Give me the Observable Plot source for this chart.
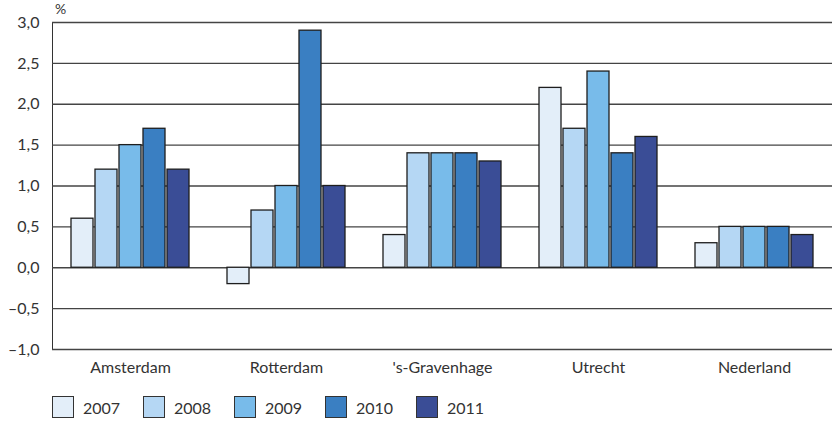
<!DOCTYPE html>
<html>
<head>
<meta charset="utf-8">
<script src="https://cdn.jsdelivr.net/npm/d3@7"></script>
<script src="https://cdn.jsdelivr.net/npm/@observablehq/plot@0.6"></script>
<style>
  html, body { margin: 0; padding: 0; background: #fff; }
  body { width: 832px; height: 423px; position: relative; font-family: Lato, "Open Sans", sans-serif; color: #333; }
  #unit { position: absolute; left: 55px; top: 2px; font-size: 14px; line-height: 14px; color: #333; }
  #legend { display: flex; padding-left: 52px; padding-top: 8px; }
  .item { display: flex; align-items: center; width: 91px; font-size: 16px; }
  .sw { width: 20px; height: 20px; border: 1.5px solid #333; margin-right: 9px; box-sizing: content-box; }
</style>
</head>
<body>
<div id="unit">%</div>
<div id="chart"></div>
<div id="legend"></div>
<script>
const cities = ["Amsterdam", "Rotterdam", "'s-Gravenhage", "Utrecht", "Nederland"];
const years = ["2007", "2008", "2009", "2010", "2011"];
const v2007 = [0.6, -0.2, 0.4, 2.2, 0.3];
const v2008 = [1.2, 0.7, 1.4, 1.7, 0.5];
const v2009 = [1.5, 1.0, 1.4, 2.4, 0.5];
const v2010 = [1.7, 2.9, 1.4, 1.4, 0.5];
const v2011 = [1.2, 1.0, 1.3, 1.6, 0.4];
const colors = ["#e3eef9", "#b5d7f4", "#78bbea", "#3a7fc2", "#3a4d96"];
const yTicks = [-1, -0.5, 0, 0.5, 1, 1.5, 2, 2.5, 3];

const series = [v2007, v2008, v2009, v2010, v2011];
const rows = [];
cities.forEach((c, i) => years.forEach((y, j) => rows.push({city: c, year: y, value: series[j][i]})));

const fmt = d => (d < 0 ? "\u2013" : "") + Math.abs(d).toFixed(1).replace(".", ",");

const chart = Plot.plot({
  width: 832,
  height: 388,
  marginLeft: 51,
  marginRight: 0,
  marginTop: 22,
  marginBottom: 39,
  style: {fontFamily: "Lato, 'Open Sans', sans-serif", fontSize: "16px", color: "#333", background: "#fff"},
  fx: {domain: cities, padding: 0, axis: "bottom", label: null, tickSize: 0, tickPadding: 12},
  x: {domain: years, paddingInner: 0.08, paddingOuter: 0.664, axis: null},
  y: {domain: [-1, 3], ticks: yTicks, tickFormat: fmt, tickSize: 0, tickPadding: 13, label: null, line: true},
  color: {domain: years, range: colors},
  marks: [
    Plot.ruleY(yTicks, {stroke: "#444", strokeWidth: 1.3}),
    Plot.barY(rows, {fx: "city", x: "year", y: "value", fill: "year", stroke: "#1e1e1e", strokeWidth: 1.3})
  ]
});
document.getElementById("chart").appendChild(chart);

const legend = document.getElementById("legend");
years.forEach((y, i) => {
  const item = document.createElement("div");
  item.className = "item";
  const sw = document.createElement("span");
  sw.className = "sw";
  sw.style.background = colors[i];
  const t = document.createElement("span");
  t.textContent = y;
  item.appendChild(sw);
  item.appendChild(t);
  legend.appendChild(item);
});
</script>
</body>
</html>
